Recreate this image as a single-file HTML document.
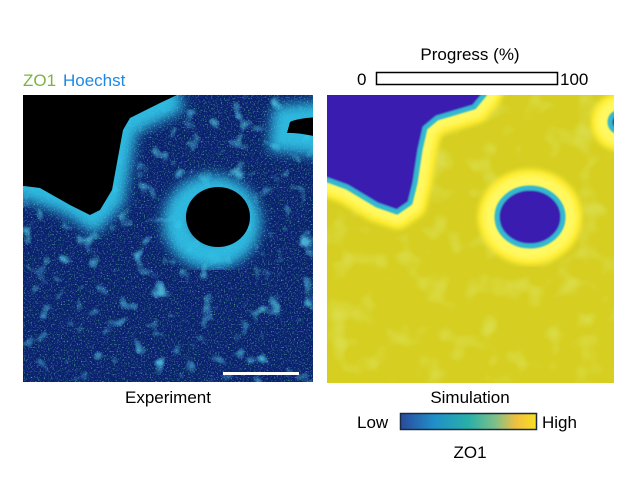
<!DOCTYPE html>
<html><head><style>
body{margin:0;width:633px;height:480px;background:#fff;overflow:hidden;font-family:"Liberation Sans",sans-serif;}
svg{position:absolute;left:0;top:0}
text{font-family:"Liberation Sans",sans-serif;font-size:17px;fill:#000}
</style></head><body>
<svg width="633" height="480" viewBox="0 0 633 480">
<defs>
<filter id="b3"><feGaussianBlur stdDeviation="2.5"/></filter>
<filter id="b5"><feGaussianBlur stdDeviation="6"/></filter>
<filter id="b1"><feGaussianBlur stdDeviation="0.8"/></filter>
<filter id="noise" x="0" y="0" width="1" height="1">
<feTurbulence type="fractalNoise" baseFrequency="0.7" numOctaves="2" seed="3"/>
<feColorMatrix values="0 0 0 0 0.15  0 0 0 0 0.7  0 0 0 0 0.3  0 0 0 3 -1.65"/>
</filter>
<filter id="blob" x="0" y="0" width="1" height="1">
<feTurbulence type="fractalNoise" baseFrequency="0.06" numOctaves="2" seed="7"/>
<feColorMatrix values="0 0 0 0 0.1  0 0 0 0 0.7  0 0 0 0 0.95  0 0 0 4 -2.4"/>
</filter>
<filter id="ynoise" x="0" y="0" width="1" height="1">
<feTurbulence type="fractalNoise" baseFrequency="0.04" numOctaves="2" seed="2"/>
<feColorMatrix values="0 0 0 0 0.75  0 0 0 0 0.85  0 0 0 0 0.2  0 0 0 1.5 -0.8"/>
</filter>
<clipPath id="cl"><rect x="23" y="95" width="290" height="287"/></clipPath>
<clipPath id="cr"><rect x="327" y="95" width="287" height="288"/></clipPath>
<linearGradient id="cb" x1="0" x2="1">
<stop offset="0" stop-color="#2a4a9c"/><stop offset="0.25" stop-color="#2090c8"/><stop offset="0.5" stop-color="#28b0a8"/><stop offset="0.7" stop-color="#80c088"/><stop offset="0.85" stop-color="#f0c040"/><stop offset="1" stop-color="#f8e020"/>
</linearGradient>
</defs>

<text x="23" y="86" style="fill:#7cb342">ZO1</text>
<text x="63" y="86" style="fill:#1e88e5">Hoechst</text>

<g clip-path="url(#cl)">
<rect x="23" y="95" width="290" height="287" fill="#0a2070"/>
<rect x="23" y="95" width="290" height="287" filter="url(#blob)" opacity="0.75"/>
<rect x="23" y="95" width="290" height="287" filter="url(#noise)" opacity="0.85"/>
<g filter="url(#b5)" fill="none" stroke="#30c8ea" stroke-width="30" opacity="0.9">
<path d="M23,95 L177,97 L123,123 L110,197 L93,215 L70,200 L23,183 Z"/>
<ellipse cx="212" cy="222" rx="34" ry="32"/>
<path d="M287,120 L313,118 L313,140 L285,137 Z"/>
</g>
<path d="M0,60 L177,60 L177,95 L160,103 L130,118 L123,130 L112,190 L100,210 L90,215 L70,205 L40,188 L0,183 Z" fill="#000"/>
<ellipse cx="218" cy="217" rx="32" ry="30" fill="#000"/>
<path d="M290,122 Q300,117 330,117 L330,140 Q300,132 287,133 Z" fill="#000"/>
</g>
<rect x="223" y="372" width="76" height="3" fill="#fff"/>
<text x="168" y="403" text-anchor="middle">Experiment</text>

<text x="470" y="60" text-anchor="middle">Progress (%)</text>
<rect x="376.5" y="72.5" width="181" height="12" fill="#fff" stroke="#000" stroke-width="1.5"/>
<text x="357" y="85">0</text>
<text x="560" y="85">100</text>

<g clip-path="url(#cr)">
<rect x="327" y="95" width="287" height="288" fill="#d6cf22"/>
<rect x="327" y="95" width="287" height="288" filter="url(#ynoise)"/>
<g filter="url(#b3)" fill="none" stroke-linejoin="round">
<g stroke="#ffee30" stroke-width="34">
<path d="M300,60 L500,60 L484,95 L474,107 L437,118 L425,128 L420,150 L415,183 L410,203 L397,212 L377,205 L347,187 L300,170 Z"/>
<ellipse cx="530" cy="217" rx="35" ry="31"/>
<circle cx="620" cy="122" r="12"/>
</g>
<g stroke="#fff860" stroke-width="22">
<path d="M300,60 L500,60 L484,95 L474,107 L437,118 L425,128 L420,150 L415,183 L410,203 L397,212 L377,205 L347,187 L300,170 Z"/>
<ellipse cx="530" cy="217" rx="35" ry="31"/>
<circle cx="620" cy="122" r="12"/>
</g>
</g>
<g filter="url(#b1)" stroke-linejoin="round">
<g stroke="#30b8d0" stroke-width="5" fill="#3a1fb0">
<path d="M300,60 L500,60 L484,95 L474,107 L437,118 L425,128 L420,150 L415,183 L410,203 L397,212 L377,205 L347,187 L300,170 Z"/>
<ellipse cx="530" cy="217" rx="33" ry="29"/>
<circle cx="620" cy="122" r="10"/>
</g>
</g>
</g>
<text x="470" y="403" text-anchor="middle">Simulation</text>
<rect x="400.5" y="413.5" width="136" height="16" fill="url(#cb)" stroke="#1a2a40" stroke-width="1.5"/>
<text x="357" y="428">Low</text>
<text x="542" y="428">High</text>
<text x="470" y="458" text-anchor="middle">ZO1</text>
</svg>
</body></html>
